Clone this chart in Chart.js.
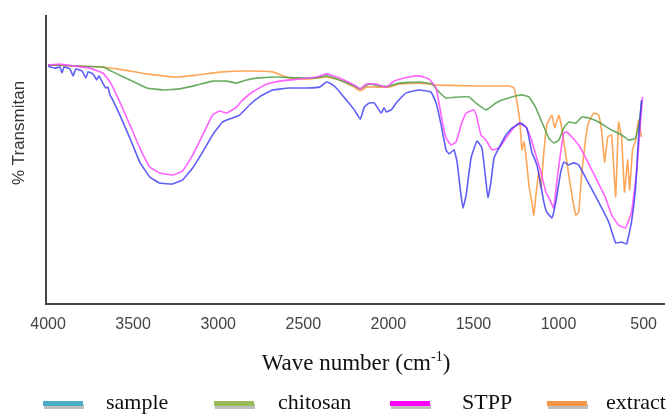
<!DOCTYPE html>
<html>
<head>
<meta charset="utf-8">
<script src="https://cdn.jsdelivr.net/npm/chart.js@4/dist/chart.umd.min.js"></script>
<style>
    html, body { margin: 0; padding: 0; background: #fff; }
    #wrap { width: 668px; height: 414px; position: relative; }
</style>
</head>
<body>
<div id="wrap"><canvas id="ftir" width="668" height="414"></canvas></div>
<script>
(function () {
    'use strict';

    // wave numbers (cm-1) and % transmittance
    var sampleWave = [4000, 3959, 3930, 3918, 3906, 3871, 3853, 3836, 3801, 3777, 3765, 3736, 3713, 3701, 3678, 3660, 3648, 3636, 3619,
        3578, 3519, 3461, 3402, 3343, 3267, 3209, 3150, 3091, 3033, 2974, 2915, 2874, 2816, 2757, 2681, 2581, 2482, 2405, 2364,
        2335, 2306, 2247, 2200, 2165, 2141, 2112, 2083, 2042, 2025, 2012, 1983, 1954, 1895, 1819, 1749, 1719, 1690, 1661, 1643,
        1614, 1596, 1573, 1561, 1543, 1514, 1479, 1450, 1426, 1415, 1397, 1379, 1350, 1309, 1274, 1221, 1186, 1157, 1127, 1104,
        1086, 1069, 1039, 1016, 987, 969, 940, 910, 881, 840, 764, 705, 664, 629, 600, 571, 547, 530, 512];
    var sampleT = [82.6, 81.9, 82.3, 80.2, 82.3, 81.6, 79.2, 81.6, 80.9, 78.5, 80.6, 79.9, 77.8, 79.2, 76.7, 75.0, 75.3, 72.6, 70.8,
        65.6, 57.6, 49.3, 44.1, 42.0, 41.7, 43.1, 47.2, 52.8, 58.7, 63.2, 64.6, 65.6, 69.1, 71.9, 74.3, 75.0, 75.0, 75.3, 77.1,
        76.4, 75.0, 70.8, 67.4, 64.2, 68.4, 69.8, 69.8, 66.3, 68.1, 66.7, 67.4, 69.8, 73.3, 74.3, 73.6, 69.8, 62.2, 53.5, 52.1,
        53.5, 49.3, 37.8, 33.3, 37.8, 50.7, 56.6, 54.2, 42.4, 36.8, 42.4, 50.7, 54.2, 58.7, 61.1, 62.8, 61.1, 52.8, 48.3, 41.3,
        35.4, 31.9, 29.9, 35.4, 45.8, 49.3, 48.3, 49.0, 48.3, 43.8, 35.4, 28.5, 21.2, 21.5, 20.8, 28.5, 40.3, 57.6, 70.8];

    var chitosanWave = [4000, 3812, 3678, 3619, 3519, 3420, 3326, 3226, 3126, 3033, 2951, 2892, 2833, 2757, 2640, 2523, 2423, 2364,
        2288, 2200, 2165, 2112, 2054, 1995, 1936, 1819, 1743, 1702, 1661, 1585, 1526, 1485, 1426, 1368, 1332, 1274, 1215, 1174,
        1133, 1098, 1057, 1028, 998, 969, 940, 899, 863, 822, 764, 688, 629, 588, 547, 524, 512];
    var chitosanT = [83.0, 82.6, 82.3, 80.6, 77.8, 75.0, 74.3, 74.7, 76.0, 77.4, 77.4, 76.7, 77.8, 78.5, 78.8, 78.5, 78.5, 79.2,
        77.8, 75.7, 74.7, 76.4, 75.7, 75.7, 76.7, 77.1, 76.4, 73.6, 71.5, 71.9, 71.9, 69.8, 67.4, 69.8, 70.8, 71.9, 72.6, 71.9,
        68.1, 63.2, 57.6, 55.9, 56.9, 61.1, 63.2, 62.8, 64.9, 64.6, 63.2, 60.4, 58.7, 56.9, 57.6, 63.2, 70.1];

    var stppWave = [4000, 3930, 3842, 3754, 3678, 3636, 3578, 3519, 3461, 3402, 3343, 3267, 3209, 3150, 3091, 3033, 2992, 2951,
        2892, 2857, 2798, 2716, 2640, 2523, 2423, 2364, 2288, 2200, 2165, 2130, 2071, 2012, 1966, 1878, 1819, 1760, 1719, 1690,
        1661, 1631, 1602, 1567, 1543, 1497, 1479, 1456, 1426, 1391, 1350, 1309, 1274, 1233, 1192, 1162, 1133, 1104, 1074, 1045,
        1028, 1010, 987, 969, 952, 922, 881, 840, 781, 723, 688, 647, 606, 571, 541, 518, 506];
    var stppT = [83.0, 83.3, 82.6, 81.9, 80.2, 77.1, 70.1, 62.2, 54.2, 47.6, 45.5, 44.8, 46.2, 51.7, 58.7, 65.6, 67.0, 66.3,
        68.4, 70.8, 73.6, 76.4, 77.4, 78.1, 78.8, 79.9, 78.5, 76.0, 74.7, 76.4, 76.4, 75.3, 77.4, 78.8, 79.2, 78.1, 75.0, 65.6,
        57.6, 55.2, 56.3, 63.2, 66.3, 67.4, 64.6, 58.7, 56.9, 53.5, 54.2, 57.6, 60.4, 62.8, 61.5, 57.6, 51.7, 45.8, 38.9, 35.4,
        33.3, 42.4, 52.8, 59.4, 59.7, 58.0, 55.2, 50.7, 43.8, 36.8, 30.9, 27.4, 26.4, 31.9, 45.8, 63.2, 71.9];

    var extractWave = [4000, 3812, 3678, 3560, 3420, 3244, 3126, 2974, 2833, 2681, 2581, 2482, 2364, 2288, 2200, 2165, 2130, 1995,
        1936, 1819, 1702, 1467, 1350, 1291, 1262, 1244, 1227, 1215, 1203, 1192, 1174, 1157, 1145, 1133, 1116, 1104, 1086, 1069,
        1039, 1022, 998, 981, 957, 928, 899, 881, 863, 840, 822, 793, 764, 746, 729, 711, 688, 664, 647, 629, 612, 594, 582,
        565, 547, 530, 512];
    var extractT = [83.0, 82.6, 82.3, 81.3, 79.9, 78.8, 79.5, 80.6, 80.9, 80.6, 78.5, 78.1, 78.8, 77.8, 75.3, 74.0, 75.3, 75.3,
        76.4, 76.7, 76.0, 75.7, 75.7, 75.7, 75.0, 70.1, 63.2, 53.5, 56.3, 51.7, 41.3, 35.4, 30.9, 37.8, 45.8, 40.3, 52.8, 62.2,
        65.6, 61.1, 65.6, 61.1, 51.7, 40.3, 30.9, 31.9, 45.8, 57.6, 63.2, 66.3, 65.6, 59.7, 49.3, 58.0, 58.7, 37.2, 63.2, 57.6,
        38.9, 50.0, 39.6, 53.5, 56.9, 63.9, 58.0];

    var waveTicks = [4000, 3500, 3000, 2500, 2000, 1500, 1000, 500];

    var legendItems = [
        { text: 'sample', color: '#4bacc6', swatchX: 43, textX: 106 },
        { text: 'chitosan', color: '#9bbb59', swatchX: 214, textX: 278 },
        { text: 'STPP', color: '#ff00ff', swatchX: 390, textX: 462 },
        { text: 'extract', color: '#f79646', swatchX: 547, textX: 606 }
    ];

    function toPoints(waves, values) {
        return waves.map(function (w, i) {
            return { x: w, y: values[i] };
        });
    }

    function lineSet(label, waves, values, color) {
        return {
            label: label,
            data: toPoints(waves, values),
            borderColor: color,
            borderWidth: 1.6,
            pointRadius: 0,
            tension: 0.1,
            fill: false
        };
    }

    var decorPlugin = {
        id: 'decor',
        afterDraw: function (chart) {
            var ctx = chart.ctx;
            ctx.save();

            // y axis title
            ctx.translate(19, 133);
            ctx.rotate(-Math.PI / 2);
            ctx.fillStyle = '#333';
            ctx.font = '17px "Liberation Sans", Arial, sans-serif';
            ctx.textAlign = 'center';
            ctx.textBaseline = 'middle';
            ctx.fillText('% Transmitan', 0, 0);
            ctx.setTransform(1, 0, 0, 1, 0, 0);

            // x axis title with superscript
            ctx.fillStyle = '#111';
            ctx.textBaseline = 'alphabetic';
            ctx.textAlign = 'left';
            var big = '23px "Liberation Serif", "Times New Roman", serif';
            var small = '14px "Liberation Serif", "Times New Roman", serif';
            var part1 = 'Wave number (cm';
            var sup = '-1';
            var part2 = ')';
            ctx.font = big;
            var w1 = ctx.measureText(part1).width;
            var w3 = ctx.measureText(part2).width;
            ctx.font = small;
            var w2 = ctx.measureText(sup).width;
            var x0 = 356 - (w1 + w2 + w3) / 2;
            var base = 370;
            ctx.font = big;
            ctx.fillText(part1, x0, base);
            ctx.font = small;
            ctx.fillText(sup, x0 + w1, base - 9);
            ctx.font = big;
            ctx.fillText(part2, x0 + w1 + w2, base);

            // legend
            ctx.font = '22px "Liberation Serif", "Times New Roman", serif';
            ctx.textBaseline = 'middle';
            legendItems.forEach(function (item) {
                ctx.fillStyle = 'rgba(0,0,0,0.25)';
                ctx.fillRect(item.swatchX + 1, 404, 40, 5);
                ctx.fillStyle = item.color;
                ctx.fillRect(item.swatchX, 401, 40, 5);
                ctx.fillStyle = '#111';
                ctx.fillText(item.text, item.textX, 403);
            });
            ctx.restore();
        }
    };

    var canvas = document.getElementById('ftir');
    new Chart(canvas, {
        type: 'line',
        data: {
            datasets: [
                lineSet('sample', sampleWave, sampleT, 'rgba(55,55,245,0.8)'),
                lineSet('STPP', stppWave, stppT, 'rgba(255,70,255,0.85)'),
                lineSet('chitosan', chitosanWave, chitosanT, 'rgba(80,160,70,0.85)'),
                lineSet('extract', extractWave, extractT, 'rgba(250,150,60,0.85)')
            ]
        },
        options: {
            responsive: false,
            animation: false,
            devicePixelRatio: 1,
            layout: { padding: { left: 46, right: 2, top: 16, bottom: 0 } },
            plugins: {
                legend: { display: false },
                tooltip: { enabled: false }
            },
            scales: {
                x: {
                    type: 'linear',
                    reverse: true,
                    min: 377,
                    max: 4012,
                    afterBuildTicks: function (scale) {
                        scale.ticks = waveTicks.map(function (v) { return { value: v }; });
                    },
                    afterFit: function (scale) {
                        scale.height = 110;
                    },
                    grid: { display: false, drawTicks: false },
                    border: { display: true, color: '#444', width: 2 },
                    ticks: {
                        padding: 11,
                        color: '#444',
                        font: { family: '"Liberation Sans", Arial, sans-serif', size: 16 },
                        maxRotation: 0,
                        autoSkip: false,
                        callback: function (value) {
                            return String(value);
                        }
                    }
                },
                y: {
                    min: 0,
                    max: 100,
                    afterFit: function (scale) {
                        scale.width = 0;
                    },
                    grid: { display: false, drawTicks: false },
                    border: { display: true, color: '#444', width: 2 },
                    ticks: { display: false }
                }
            }
        },
        plugins: [decorPlugin]
    });
})();
</script>
</body>
</html>
